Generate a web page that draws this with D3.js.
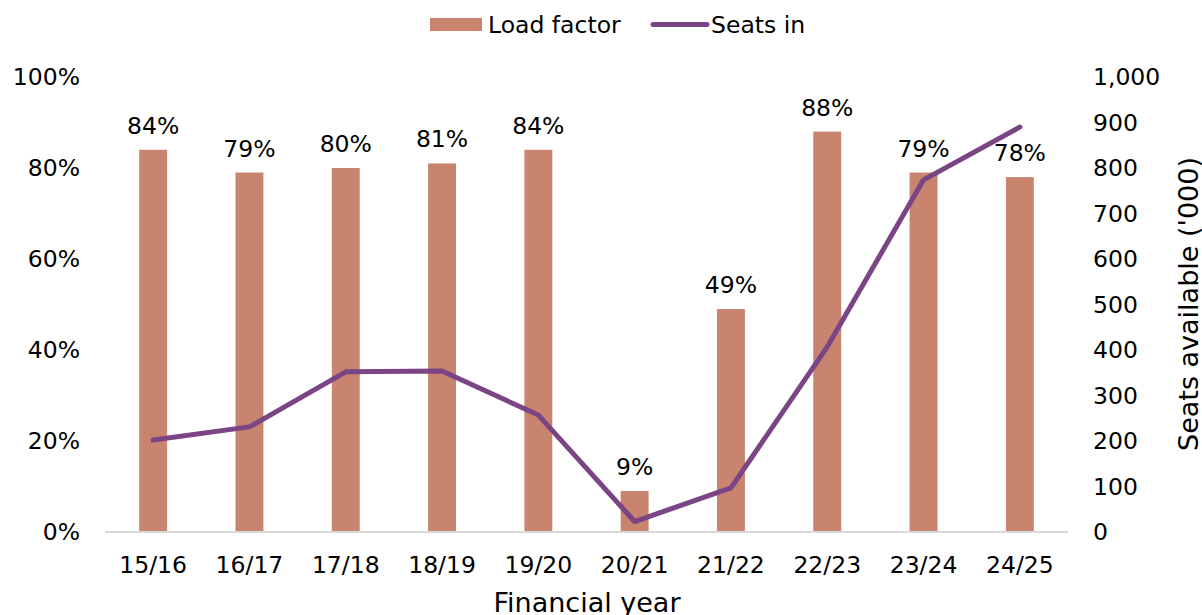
<!DOCTYPE html>
<html lang="en">
<meta charset="utf-8">
<style>
  body {
    margin: 0;
    background: #fff;
    font-family: 'DejaVu Sans', Verdana, sans-serif;
  }
  .lbl, .legend text {
    fill: #000;
    font-size: 23.5px;
  }
  .title {
    fill: #000;
    font-size: 27px;
  }
</style>
<body>
<div id="chart"></div>

<script src="https://d3js.org/d3.v7.min.js"></script>
<script>

// data
var years = ["15/16", "16/17", "17/18", "18/19", "19/20", "20/21", "21/22", "22/23", "23/24", "24/25"];
var loadFactor = [0.84, 0.79, 0.80, 0.81, 0.84, 0.09, 0.49, 0.88, 0.79, 0.78];
var seatLabels = ["84%", "79%", "80%", "81%", "84%", "9%", "49%", "88%", "79%", "78%"];
var seatsIn = [202, 231, 352, 354, 257, 23, 97, 407, 774, 890];
var leftTicks = [0, 0.2, 0.4, 0.6, 0.8, 1.0];
var rightTicks = [0, 100, 200, 300, 400, 500, 600, 700, 800, 900, 1000];

var width = 1202,
    height = 615;

var barColor = "#c8846f",
    lineColor = "#7b4585";

var svg = d3.select("#chart").append("svg")
    .attr("width", width)
    .attr("height", height);

// scales
var x = d3.scaleBand()
    .domain(years)
    .range([105, 1068])
    .paddingInner(0.71)
    .paddingOuter(0.355);

var yLeft = d3.scaleLinear().domain([0, 1]).range([532, 77]);
var yRight = d3.scaleLinear().domain([0, 1000]).range([532, 77]);

// left axis
var leftAxis = svg.append("g")
    .attr("transform", "translate(92,0)")
    .call(d3.axisLeft(yLeft).tickValues(leftTicks).tickFormat(d3.format(".0%")).tickSize(0).tickPadding(12));
leftAxis.select(".domain").remove();

// right axis
var rightAxis = svg.append("g")
    .attr("transform", "translate(1081,0)")
    .call(d3.axisRight(yRight).tickValues(rightTicks).tickFormat(d3.format(",")).tickSize(0).tickPadding(12));
rightAxis.select(".domain").remove();

// bottom axis
var bottomAxis = svg.append("g")
    .attr("transform", "translate(0,532)")
    .call(d3.axisBottom(x).tickSize(0).tickPadding(24));
bottomAxis.select(".domain").remove();

svg.selectAll(".tick text")
    .style("font-family", "'DejaVu Sans', Verdana, sans-serif")
    .style("font-size", "23.5px")
    .attr("fill", "#000");

// bars
svg.append("g")
  .selectAll("rect")
    .data(loadFactor)
  .enter().append("rect")
    .attr("x", function(d, i) { return x(years[i]); })
    .attr("y", function(d) { return yLeft(d); })
    .attr("width", x.bandwidth())
    .attr("height", function(d) { return yLeft(0) - yLeft(d); })
    .attr("fill", barColor);

// baseline
svg.append("line")
    .attr("x1", 105).attr("x2", 1068)
    .attr("y1", 532).attr("y2", 532)
    .attr("stroke", "#d9d9d9")
    .attr("stroke-width", 2);

// bar labels
svg.append("g")
  .selectAll("text")
    .data(loadFactor)
  .enter().append("text")
    .attr("class", "lbl")
    .attr("x", function(d, i) { return x(years[i]) + x.bandwidth() / 2; })
    .attr("y", function(d) { return yLeft(d) - 16; })
    .attr("text-anchor", "middle")
    .text(function(d, i) { return seatLabels[i]; });

// seats line
var line = d3.line()
    .x(function(d, i) { return x(years[i]) + x.bandwidth() / 2; })
    .y(function(d) { return yRight(d); });

svg.append("path")
    .datum(seatsIn)
    .attr("d", line)
    .attr("fill", "none")
    .attr("stroke", lineColor)
    .attr("stroke-width", 5)
    .attr("stroke-linejoin", "round")
    .attr("stroke-linecap", "round");

// axis titles
svg.append("text")
    .attr("class", "title")
    .attr("x", 587)
    .attr("y", 612)
    .attr("text-anchor", "middle")
    .text("Financial year");

svg.append("text")
    .attr("class", "title")
    .attr("transform", "translate(1198,304) rotate(-90)")
    .attr("text-anchor", "middle")
    .text("Seats available ('000)");

// legend
var legend = svg.append("g").attr("class", "legend");
legend.append("rect")
    .attr("x", 430).attr("y", 18)
    .attr("width", 52).attr("height", 13)
    .attr("fill", barColor);
legend.append("text")
    .attr("x", 488).attr("y", 33)
    .text("Load factor");
legend.append("line")
    .attr("x1", 653).attr("x2", 707)
    .attr("y1", 24.5).attr("y2", 24.5)
    .attr("stroke", lineColor)
    .attr("stroke-width", 5)
    .attr("stroke-linecap", "round");
legend.append("text")
    .attr("x", 711).attr("y", 33)
    .text("Seats in");

</script>
</body>
</html>
